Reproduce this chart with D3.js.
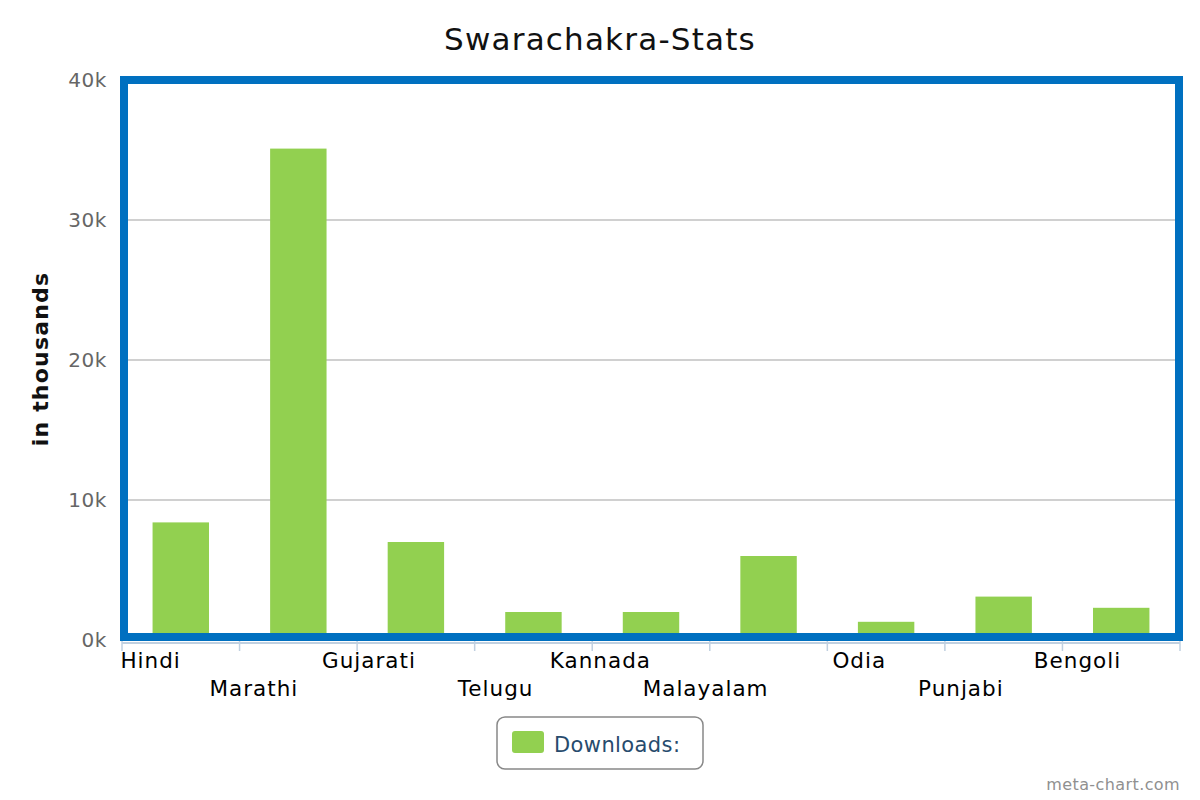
<!DOCTYPE html>
<html lang="en">
<head>
    <meta charset="UTF-8">
    <title>Swarachakra-Stats</title>
    <script src="https://d3js.org/d3.v7.min.js"></script>
    <style>
        body { margin: 0; background: #fff; }
        text { font-family: 'DejaVu Sans', Verdana, sans-serif; }
    </style>
</head>
<body>
<script>
    const width  = 1200;
    const height = 800;

    const languages = ["Hindi", "Marathi", "Gujarati", "Telugu", "Kannada",
                       "Malayalam", "Odia", "Punjabi", "Bengoli"];
    const downloads = [8400, 35100, 7000, 2000, 2000, 6000, 1300, 3100, 2300];
    const yTicks    = [0, 10000, 20000, 30000, 40000];

    const plotLeft = 122, plotRight = 1180, plotTop = 80, plotBottom = 640;

    const svg = d3.select("body").append("svg")
                  .attr("width", width).attr("height", height);

    const x = d3.scaleBand()
                .domain(languages)
                .range([plotLeft, plotRight])
                .paddingInner(0.52)
                .paddingOuter(0.26);

    const y = d3.scaleLinear()
                .domain([0, 40000])
                .range([plotBottom, plotTop]);

    // title
    svg.append("text")
       .attr("x", 600).attr("y", 50)
       .attr("text-anchor", "middle")
       .style("font-size", "31px")
       .style("letter-spacing", "1.2px")
       .attr("fill", "#111")
       .text("Swarachakra-Stats");

    // gridlines
    svg.append("g").selectAll("line")
       .data(yTicks.slice(1, -1)).enter()
       .append("line")
       .attr("x1", plotLeft).attr("x2", plotRight)
       .attr("y1", d => y(d)).attr("y2", d => y(d))
       .attr("stroke", "#c0c0c0").attr("stroke-width", 1.5);

    // y tick labels
    svg.append("g").selectAll("text")
       .data(yTicks).enter()
       .append("text")
       .attr("x", 107)
       .attr("y", d => y(d) + 7)
       .attr("text-anchor", "end")
       .attr("fill", "#666")
       .style("font-size", "20px")
       .style("letter-spacing", "0.6px")
       .text(d => (d / 1000) + "k");

    // y axis title
    svg.append("text")
       .attr("transform", "translate(48,359) rotate(-90)")
       .attr("text-anchor", "middle")
       .style("font-size", "22px")
       .style("font-weight", "bold")
       .style("letter-spacing", "1.2px")
       .attr("fill", "#111")
       .text("in thousands");

    // bars
    svg.append("g").selectAll("rect")
       .data(downloads).enter()
       .append("rect")
       .attr("x", (d, i) => x(languages[i]))
       .attr("y", d => y(d))
       .attr("width", x.bandwidth())
       .attr("height", d => plotBottom - y(d))
       .attr("fill", "#92d050");

    // plot border
    svg.append("rect")
       .attr("x", 124).attr("y", 80)
       .attr("width", 1055).attr("height", 557)
       .attr("fill", "none")
       .attr("stroke", "#0070c0")
       .attr("stroke-width", 8);

    // x axis line and ticks
    const step = x.step();
    svg.append("line")
       .attr("x1", plotLeft).attr("x2", plotRight)
       .attr("y1", 643).attr("y2", 643)
       .attr("stroke", "#c0d0e0").attr("stroke-width", 2);

    svg.append("g").selectAll("line")
       .data(d3.range(languages.length + 1)).enter()
       .append("line")
       .attr("x1", i => plotLeft + i * step).attr("x2", i => plotLeft + i * step)
       .attr("y1", 641).attr("y2", 651)
       .attr("stroke", "#c0d0e0").attr("stroke-width", 1.5);

    // x labels, staggered in two rows
    svg.append("g").selectAll("text")
       .data(languages).enter()
       .append("text")
       .attr("x", d => x(d) + x.bandwidth() / 2)
       .attr("y", (d, i) => i % 2 === 0 ? 668 : 696)
       .attr("text-anchor", "end")
       .style("font-size", "21.5px")
       .style("letter-spacing", "1px")
       .attr("fill", "#000")
       .text(d => d);

    // legend
    const legend = svg.append("g");
    legend.append("rect")
          .attr("x", 497).attr("y", 717)
          .attr("width", 206).attr("height", 52)
          .attr("rx", 8)
          .attr("fill", "#fff")
          .attr("stroke", "#888").attr("stroke-width", 1.5);
    legend.append("rect")
          .attr("x", 512).attr("y", 731)
          .attr("width", 32).attr("height", 22)
          .attr("rx", 3)
          .attr("fill", "#92d050");
    legend.append("text")
          .attr("x", 554).attr("y", 752)
          .style("font-size", "21px")
          .style("letter-spacing", "0.4px")
          .attr("fill", "#274b6d")
          .text("Downloads:");

    // credit
    svg.append("text")
       .attr("x", 1180).attr("y", 790)
       .attr("text-anchor", "end")
       .style("font-size", "16px")
       .style("letter-spacing", "0.4px")
       .attr("fill", "#909090")
       .text("meta-chart.com");
</script>
</body>
</html>
